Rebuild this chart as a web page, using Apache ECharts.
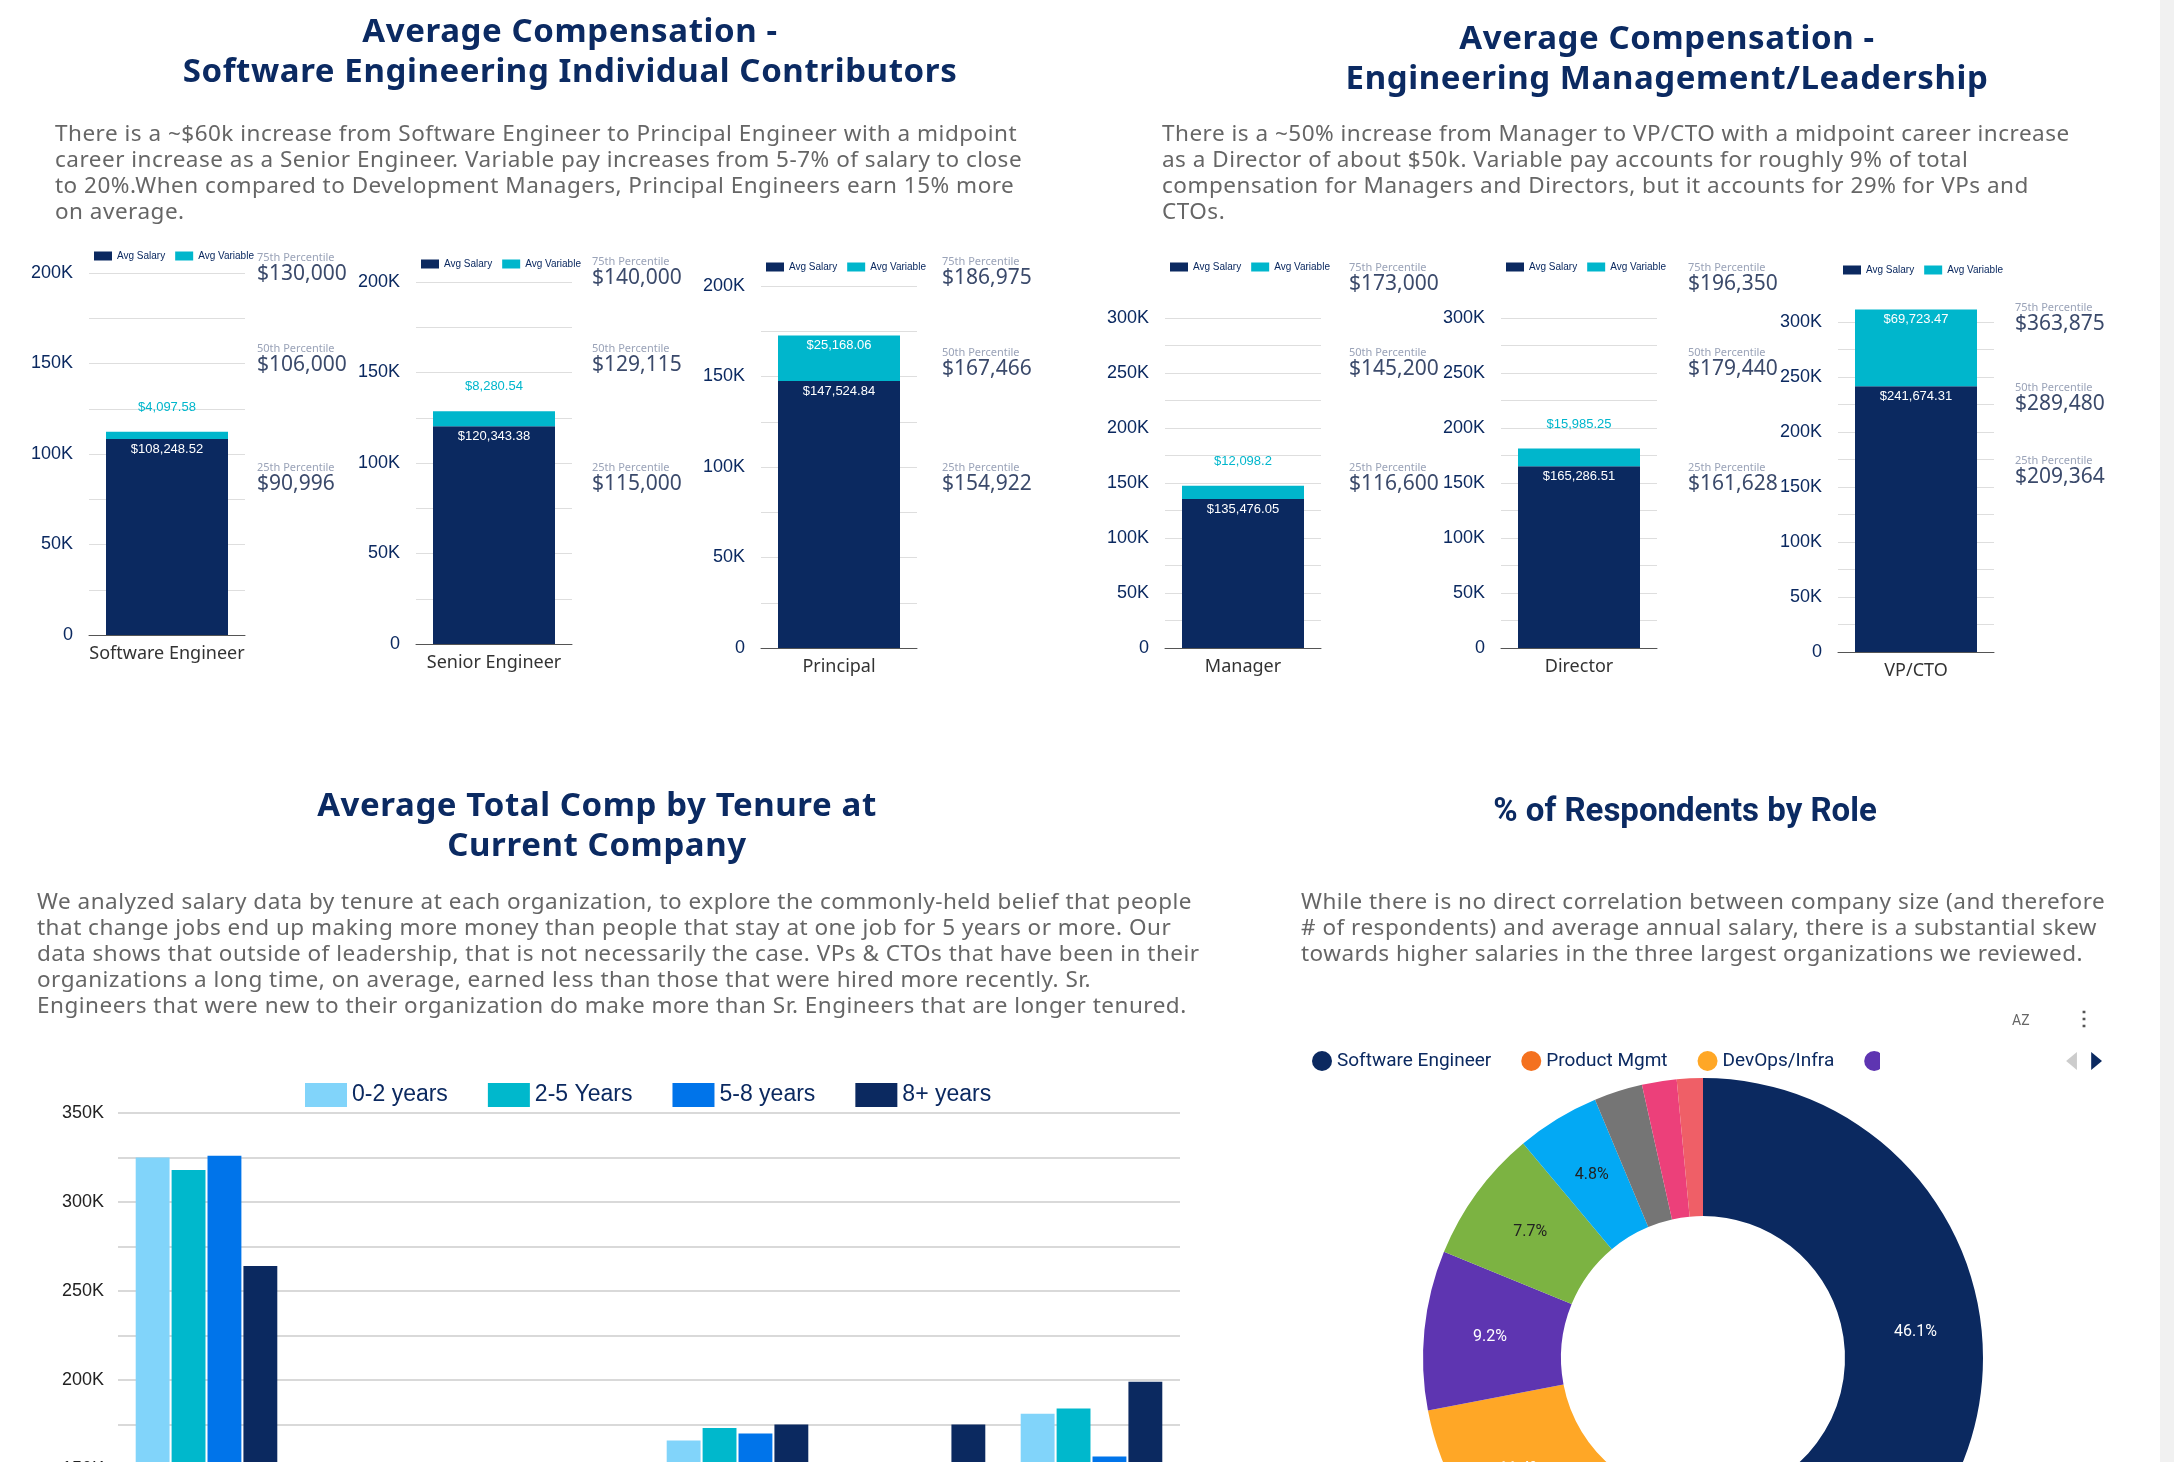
<!DOCTYPE html>
<html>
<head>
<meta charset="utf-8">
<script src="https://cdn.jsdelivr.net/npm/echarts@6/dist/echarts.min.js"></script>
<style>
  html,body{margin:0;padding:0;width:2174px;height:1462px;overflow:hidden;background:#fff;font-family:"Noto Sans",sans-serif;}
  #main{position:absolute;left:0;top:0;width:2174px;height:1760px;}
  .t{position:absolute;text-align:center;color:#0b2a62;font-weight:bold;font-size:33px;line-height:40px;letter-spacing:0.6px;z-index:2;}
  .d{position:absolute;color:#666;font-size:22.5px;line-height:26px;letter-spacing:0.5px;z-index:2;}
  #scroll{position:absolute;left:2160px;top:0;width:14px;height:1462px;background:#f1f1f1;z-index:3;}
</style>
</head>
<body>
<div id="main"></div>
<div class="t" style="left:170px;top:10px;width:800px;">Average Compensation -<br>Software Engineering Individual Contributors</div>
<div class="d" style="left:55px;top:120px;width:990px;">There is a ~$60k increase from Software Engineer to Principal Engineer with a midpoint career increase as a Senior Engineer. Variable pay increases from 5-7% of salary to close to 20%.When compared to Development Managers, Principal Engineers earn 15% more on average.</div>
<div class="t" style="left:1267px;top:17px;width:800px;">Average Compensation -<br>Engineering Management/Leadership</div>
<div class="d" style="left:1162px;top:120px;width:935px;">There is a ~50% increase from Manager to VP/CTO with a midpoint career increase as a Director of about $50k. Variable pay accounts for roughly 9% of total compensation for Managers and Directors, but it accounts for 29% for VPs and CTOs.</div>
<div class="t" style="left:197px;top:784px;width:800px;">Average Total Comp by Tenure at<br>Current Company</div>
<div class="d" style="left:37px;top:888px;width:1170px;">We analyzed salary data by tenure at each organization, to explore the commonly-held belief that people that change jobs end up making more money than people that stay at one job for 5 years or more. Our data shows that outside of leadership, that is not necessarily the case. VPs &amp; CTOs that have been in their organizations a long time, on average, earned less than those that were hired more recently. Sr. Engineers that were new to their organization do make more than Sr. Engineers that are longer tenured.</div>
<div class="t" style="left:1285px;top:790px;width:800px;font-family:Roboto,sans-serif;letter-spacing:0;">% of Respondents by Role</div>
<div class="d" style="left:1301px;top:888px;width:805px;">While there is no direct correlation between company size (and therefore # of respondents) and average annual salary, there is a substantial skew towards higher salaries in the three largest organizations we reviewed.</div>
<div id="scroll"></div>
<script>
// mini charts: roles, salary + variable
var roles = ['Software Engineer', 'Senior Engineer', 'Principal', 'Manager', 'Director', 'VP/CTO'];
var avgSalary = [108248.52, 120343.38, 147524.84, 135476.05, 165286.51, 241674.31];
var avgVariable = [4097.58, 8280.54, 25168.06, 12098.2, 15985.25, 69723.47];
var axisMax = [200000, 200000, 200000, 300000, 300000, 300000];
var p75 = ['$130,000', '$140,000', '$186,975', '$173,000', '$196,350', '$363,875'];
var p50 = ['$106,000', '$129,115', '$167,466', '$145,200', '$179,440', '$289,480'];
var p25 = ['$90,996', '$115,000', '$154,922', '$116,600', '$161,628', '$209,364'];

// tenure chart
var tenureGroups = ['VP/CTO', 'Software Engineer', 'Senior Engineer', 'Principal', 'Manager', 'Director'];
var tenure02 = [325000, 104000, 130000, 166000, 142000, 181000];
var tenure25 = [318000, 115000, 120000, 173000, 140000, 184000];
var tenure58 = [326000, 130000, 131000, 170000, 139000, 157000];
var tenure8p = [264000, 146000, 140000, 175000, 175000, 199000];

// respondents by role
var pieNames = ['Software Engineer', 'Product Mgmt', 'DevOps/Infra', 'Engineering Mgmt', 'QA/Test', 'Data/Analytics', 'Design', 'Leadership', 'Other'];
var pieValues = [46.1, 14.5, 11.4, 9.2, 7.7, 4.8, 2.8, 2.0, 1.5];
var pieColors = ['#0b2960', '#f4711f', '#ffa726', '#5e35b1', '#7cb342', '#03a9f4', '#757575', '#ec407a', '#ef5f67'];

var NAVY = '#0b2960', CYAN = '#00b6cc';

// layout of the mini charts (pixels)
var miniLayout = [
  {l: 89,  t: 273, b: 635, lg: 246, px: 257, py: [252, 343, 462]},
  {l: 416, t: 282, b: 644, lg: 254, px: 592, py: [256, 343, 462]},
  {l: 761, t: 286, b: 648, lg: 257, px: 942, py: [256, 347, 462]},
  {l: 1165, t: 318, b: 648, lg: 257, px: 1349, py: [262, 347, 462]},
  {l: 1501, t: 318, b: 648, lg: 257, px: 1688, py: [262, 347, 462]},
  {l: 1838, t: 322, b: 652, lg: 260, px: 2015, py: [302, 382, 455]}
];
var miniW = 156;

var grid = [], xAxis = [], yAxis = [], series = [], legend = [], graphic = [];
var kfmt = function (v) { return v === 0 ? '0' : (v / 1000) + 'K'; };

roles.forEach(function (r, i) {
  var L = miniLayout[i];
  grid.push({left: L.l, top: L.t, width: miniW, height: L.b - L.t});
  xAxis.push({gridIndex: i, type: 'category', data: [r],
    axisLine: {lineStyle: {color: '#555'}}, axisTick: {show: false},
    axisLabel: {color: '#333', fontSize: 18, margin: 10, fontFamily: 'Noto Sans'}});
  yAxis.push({gridIndex: i, type: 'value', min: 0, max: axisMax[i], interval: 25000,
    axisLine: {show: false}, axisTick: {show: false},
    splitLine: {lineStyle: {color: '#dedede'}},
    axisLabel: {color: '#0b2960', fontSize: 18, margin: 16,
      formatter: function (v) { return v % 50000 === 0 ? kfmt(v) : ''; }}});
  series.push({name: 'Avg Salary', type: 'bar', stack: 's' + i, xAxisIndex: i, yAxisIndex: i,
    data: [avgSalary[i]], barWidth: 122, itemStyle: {color: NAVY}, clip: false,
    label: {show: true, position: 'insideTop', distance: 4, color: '#fff', fontSize: 13,
      formatter: function (p) { return '$' + p.value.toLocaleString('en-US', {minimumFractionDigits: 2, maximumFractionDigits: 2}); }}});
  series.push({name: 'Avg Variable', type: 'bar', stack: 's' + i, xAxisIndex: i, yAxisIndex: i,
    data: [avgVariable[i]], barWidth: 122, itemStyle: {color: CYAN}, clip: false,
    label: {show: true, position: i === 2 || i === 5 ? 'insideTop' : 'top', distance: i === 2 || i === 5 ? 3 : 18,
      color: i === 2 || i === 5 ? '#fff' : CYAN, fontSize: 13,
      formatter: function (p) { return '$' + p.value.toLocaleString('en-US', {maximumFractionDigits: 2}); }}});
  legend.push({data: ['Avg Salary', 'Avg Variable'], left: L.l, top: L.lg, itemWidth: 18, itemHeight: 9,
    itemGap: 10, icon: 'rect', selectedMode: false, textStyle: {fontSize: 10, color: '#0b2960'}});
  [['75th Percentile', p75[i]], ['50th Percentile', p50[i]], ['25th Percentile', p25[i]]].forEach(function (pp, k) {
    graphic.push({type: 'text', left: L.px, top: L.py[k], style: {text: pp[0], fill: '#9aa3b8', font: '11px "Noto Sans"'}});
    graphic.push({type: 'text', left: L.px, top: L.py[k] + 12, style: {text: pp[1], fill: '#3b4a6b', font: '21px "Noto Sans"'}});
  });
});

// tenure grouped bars
var gi = roles.length;
grid.push({left: 118, right: 994, top: 1113, bottom: 24});
xAxis.push({gridIndex: gi, type: 'category', data: tenureGroups, axisLine: {show: false}, axisTick: {show: false}, axisLabel: {show: false}});
yAxis.push({gridIndex: gi, type: 'value', min: 0, max: 350000, interval: 25000,
  axisLine: {show: false}, axisTick: {show: false}, splitLine: {lineStyle: {color: '#d9d9d9', width: 2}},
  axisLabel: {color: '#222', fontSize: 18, margin: 14, formatter: function (v) { return v % 50000 === 0 ? kfmt(v) : ''; }}});
var tenureSeries = [['0-2 years', tenure02, '#81d4fa'], ['2-5 Years', tenure25, '#00b8cc'], ['5-8 years', tenure58, '#0074ea'], ['8+ years', tenure8p, '#0b2960']];
tenureSeries.forEach(function (s) {
  series.push({name: s[0], type: 'bar', xAxisIndex: gi, yAxisIndex: gi, data: s[1], barGap: '6%', barCategoryGap: '20%',
    itemStyle: {color: s[2]}});
});
legend.push({data: tenureSeries.map(function (s) { return s[0]; }), left: 300, top: 1078, icon: 'rect',
  itemWidth: 42, itemHeight: 24, itemGap: 40, selectedMode: false, textStyle: {fontSize: 23, color: '#0b2960'}});

// donut
series.push({name: 'Role', type: 'pie', center: [1703, 1358], radius: [142, 280], startAngle: 90, clockwise: true,
  data: pieNames.map(function (n, i) {
    return {name: n, value: pieValues[i], itemStyle: {color: pieColors[i]},
      label: {color: (i === 4 || i === 5) ? '#222' : '#fff'}};
  }),
  label: {show: true, position: 'inside', fontSize: 16, fontFamily: 'Roboto',
    formatter: function (p) { return p.value > 4 ? p.value + '%' : ''; }},
  labelLine: {show: false}, emphasis: {disabled: true}});
legend.push({type: 'scroll', data: pieNames, left: 1307, top: 1046, width: 790, icon: 'circle',
  itemWidth: 20, itemHeight: 20, itemGap: 30, selectedMode: false,
  textStyle: {fontSize: 19, color: '#0b2960', fontFamily: 'Roboto'},
  pageIconColor: '#0b2960', pageIconInactiveColor: '#ccc', pageIconSize: 18,
  pageFormatter: function () { return ''; }, pageTextStyle: {fontSize: 1}, pageButtonPosition: 'end', pageButtonItemGap: 6});
graphic.push({type: 'text', left: 2012, top: 1014, style: {text: 'AZ', fill: '#666', font: '14px Roboto'}});
graphic.push({type: 'text', left: 2074, top: 1010, style: {text: '⋮', fill: '#555', font: 'bold 20px Roboto'}});
// hide legend items beyond the first three (reference shows only the first page)
graphic.push({type: 'rect', left: 1880, top: 1040, shape: {width: 160, height: 36}, style: {fill: '#fff'}, z: 100});

var chart = echarts.init(document.getElementById('main'));
chart.setOption({animation: false, grid: grid, xAxis: xAxis, yAxis: yAxis, series: series, legend: legend, graphic: graphic});
</script>
</body>
</html>
